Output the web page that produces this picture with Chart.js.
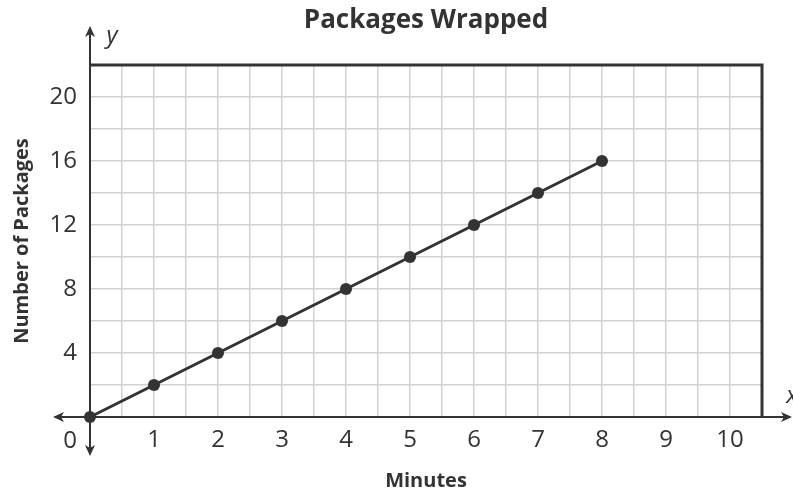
<!DOCTYPE html>
<html lang="en">
<head>
    <meta charset="UTF-8">
    <title>Packages Wrapped</title>
    <style>
        body {
            margin: 0;
            padding: 0;
            background-color: #fff;
        }
        #chartBox {
            width: 793px;
            height: 495px;
        }
    </style>
</head>
<body>
    <div id="chartBox"><canvas id="packChart"></canvas></div>
    <script src="https://cdn.jsdelivr.net/npm/chart.js"></script>
    <script>
        const minutes = [0, 1, 2, 3, 4, 5, 6, 7, 8];
        const packages = [0, 2, 4, 6, 8, 10, 12, 14, 16];
        const xTickLabels = [1, 2, 3, 4, 5, 6, 7, 8, 9, 10];
        const yTickLabels = [4, 8, 12, 16, 20];

        const ink = '#333333';
        const fontFamily = '"Open Sans", "Noto Sans", sans-serif';

        function arrowHead(ctx, x, y, dir) {
            // dir: 'up', 'down', 'left', 'right'
            const len = 11, half = 5;
            ctx.beginPath();
            if (dir === 'up') {
                ctx.moveTo(x, y); ctx.lineTo(x - half, y + len); ctx.lineTo(x, y + len - 3); ctx.lineTo(x + half, y + len);
            } else if (dir === 'down') {
                ctx.moveTo(x, y); ctx.lineTo(x - half, y - len); ctx.lineTo(x, y - len + 3); ctx.lineTo(x + half, y - len);
            } else if (dir === 'left') {
                ctx.moveTo(x, y); ctx.lineTo(x + len, y - half); ctx.lineTo(x + len - 3, y); ctx.lineTo(x + len, y + half);
            } else {
                ctx.moveTo(x, y); ctx.lineTo(x - len, y - half); ctx.lineTo(x - len + 3, y); ctx.lineTo(x - len, y + half);
            }
            ctx.closePath();
            ctx.fill();
        }

        const decorPlugin = {
            id: 'decor',
            afterDraw(chart) {
                const ctx = chart.ctx;
                const area = chart.chartArea;
                const x0 = chart.scales.x.getPixelForValue(0);
                const y0 = chart.scales.y.getPixelForValue(0);
                ctx.save();
                ctx.strokeStyle = ink;
                ctx.fillStyle = ink;

                // frame top and right
                ctx.lineWidth = 3;
                ctx.beginPath();
                ctx.moveTo(area.left, area.top);
                ctx.lineTo(area.right, area.top);
                ctx.lineTo(area.right, y0);
                ctx.stroke();

                // axis extensions with arrows
                ctx.lineWidth = 2;
                ctx.beginPath();
                ctx.moveTo(x0, area.top); ctx.lineTo(x0, 32);
                ctx.moveTo(x0, y0); ctx.lineTo(x0, 450);
                ctx.moveTo(area.left, y0); ctx.lineTo(58, y0);
                ctx.moveTo(area.right, y0); ctx.lineTo(786, y0);
                ctx.stroke();
                arrowHead(ctx, x0, 26, 'up');
                arrowHead(ctx, x0, 456, 'down');
                arrowHead(ctx, 53, y0, 'left');
                arrowHead(ctx, 792, y0, 'right');

                // title
                ctx.textAlign = 'center';
                ctx.textBaseline = 'middle';
                ctx.font = 'bold 26px ' + fontFamily;
                ctx.fillText('Packages Wrapped', (area.left + area.right) / 2, 21);

                // origin label and axis letters
                ctx.font = '24px ' + fontFamily;
                ctx.fillText('0', 70, 441);
                ctx.font = 'italic 24px ' + fontFamily;
                ctx.fillText('y', 112, 36);
                ctx.fillText('x', 792, 396);
                ctx.restore();
            }
        };

        const ctx = document.getElementById('packChart').getContext('2d');
        new Chart(ctx, {
            type: 'line',
            data: {
                datasets: [{
                    label: 'Packages',
                    data: minutes.map((m, i) => ({ x: m, y: packages[i] })),
                    borderColor: ink,
                    backgroundColor: ink,
                    borderWidth: 3,
                    pointRadius: 6,
                    pointHoverRadius: 6,
                    pointBackgroundColor: ink,
                    pointBorderWidth: 0,
                    tension: 0,
                    clip: false
                }]
            },
            plugins: [decorPlugin],
            options: {
                responsive: true,
                maintainAspectRatio: false,
                animation: false,
                layout: {
                    padding: { top: 65, right: 31, bottom: 0, left: 0 }
                },
                plugins: {
                    legend: { display: false },
                    title: { display: false },
                    tooltip: { enabled: false }
                },
                scales: {
                    x: {
                        type: 'linear',
                        min: 0,
                        max: 10.5,
                        afterFit: scale => { scale.height = 78; },
                        afterBuildTicks: scale => {
                            const t = [];
                            for (let v = 0; v <= 10.5; v += 0.5) t.push({ value: v });
                            scale.ticks = t;
                        },
                        ticks: {
                            autoSkip: false,
                            maxRotation: 0,
                            padding: 9,
                            color: ink,
                            font: { family: fontFamily, size: 24 },
                            callback: v => xTickLabels.includes(v) ? String(v) : ''
                        },
                        grid: {
                            color: '#d2d2d2',
                            lineWidth: 1.5,
                            drawTicks: false
                        },
                        border: { display: true, color: ink, width: 2 },
                        title: {
                            display: true,
                            text: 'Minutes',
                            color: ink,
                            font: { family: fontFamily, size: 20, weight: 'bold' },
                            padding: { top: 0, bottom: 2 }
                        }
                    },
                    y: {
                        type: 'linear',
                        min: 0,
                        max: 22,
                        afterFit: scale => { scale.width = 90; },
                        afterBuildTicks: scale => {
                            const t = [];
                            for (let v = 0; v <= 22; v += 2) t.push({ value: v });
                            scale.ticks = t;
                        },
                        ticks: {
                            autoSkip: false,
                            padding: 13,
                            color: ink,
                            font: { family: fontFamily, size: 24 },
                            callback: v => yTickLabels.includes(v) ? String(v) : ''
                        },
                        grid: {
                            color: '#d2d2d2',
                            lineWidth: 1.5,
                            drawTicks: false
                        },
                        border: { display: true, color: ink, width: 2 },
                        title: {
                            display: true,
                            text: 'Number of Packages',
                            color: ink,
                            font: { family: fontFamily, size: 20, weight: 'bold' },
                            padding: { top: 10, bottom: 0 }
                        }
                    }
                }
            }
        });
    </script>
</body>
</html>
